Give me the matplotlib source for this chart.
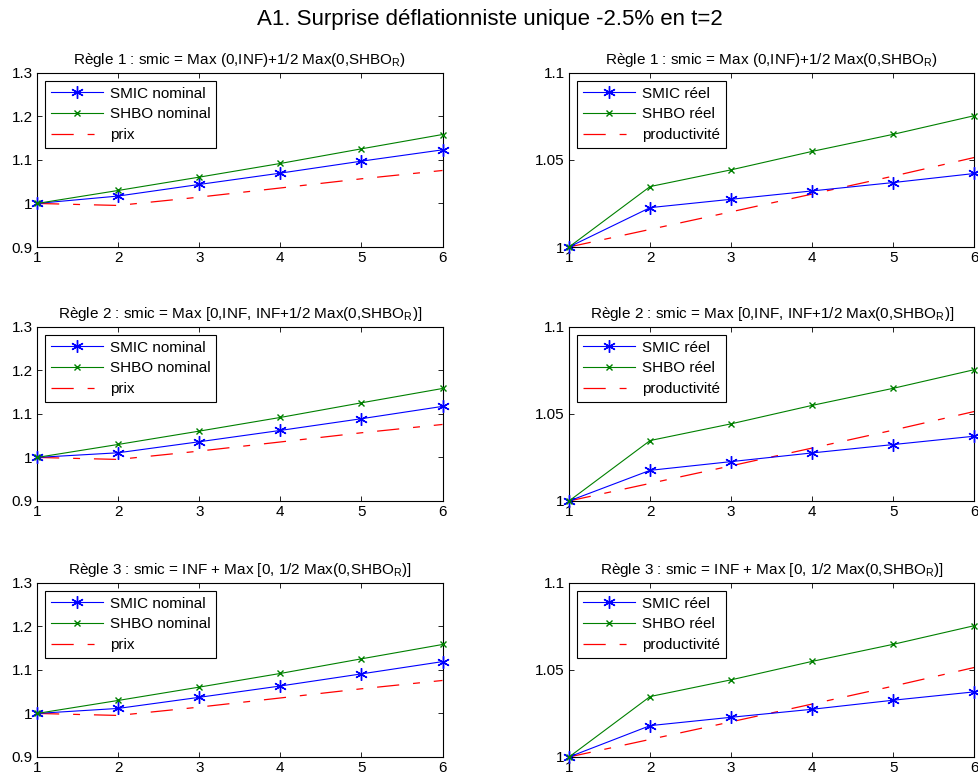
import numpy as np
import matplotlib
matplotlib.use("Agg")
import matplotlib.pyplot as plt

plt.rcParams['font.family'] = ['Liberation Sans', 'DejaVu Sans']
plt.rcParams['mathtext.fontset'] = 'custom'
plt.rcParams['mathtext.rm'] = 'Liberation Sans'
plt.rcParams['lines.scale_dashes'] = False

# periods
t = [1, 2, 3, 4, 5, 6]

# nominal series (left column), one per rule
smic_nominal = [
    [1.0, 1.017, 1.0436, 1.0696, 1.0971, 1.1231],
    [1.0, 1.0107, 1.036, 1.062, 1.0889, 1.1172],
    [1.0, 1.0115, 1.037, 1.063, 1.0908, 1.119],
]
shbo_nominal = [1.0, 1.0298, 1.0604, 1.0918, 1.1254, 1.1583]
prix = [1.0, 0.9954, 1.0145, 1.0355, 1.0566, 1.0757]

# real series (right column), one per rule
smic_reel = [
    [1.0, 1.0226, 1.0274, 1.0322, 1.037, 1.0422],
    [1.0, 1.0176, 1.0226, 1.0276, 1.0324, 1.0372],
    [1.0, 1.018, 1.0228, 1.0274, 1.0326, 1.0374],
]
shbo_reel = [1.0, 1.0347, 1.0443, 1.0549, 1.0647, 1.0754]
productivite = [1.0, 1.0101, 1.0202, 1.0304, 1.0407, 1.0514]

titles = [
    r"Règle 1 : smic = Max (0,INF)+1/2 Max(0,SHBO$_\mathregular{R}$)",
    r"Règle 2 : smic = Max [0,INF, INF+1/2 Max(0,SHBO$_\mathregular{R}$)]",
    r"Règle 3 : smic = INF + Max [0, 1/2 Max(0,SHBO$_\mathregular{R}$)]",
]
suptitle = "A1. Surprise déflationniste unique -2.5% en t=2"

BLUE = (0, 0, 1)
GREEN = (0, 0.5, 0)
RED = (1, 0, 0)
DASHDOT = (0, (16, 10, 5, 10))
ASTER = (6, 2, 0)

fig = plt.figure(figsize=(9.79, 7.76), dpi=100)
fig.text(0.5, 0.961, suptitle, ha='center', va='bottom', fontsize=16)

row_bottoms = [0.6817, 0.3544, 0.0245]
row_h = 0.2245
col_lefts = [0.0378, 0.5812]
col_w = 0.4142


def style_axes(ax):
    ax.tick_params(direction='in', top=True, right=True, length=3.5,
                   width=0.6, labelsize=11, pad=3)
    for s in ax.spines.values():
        s.set_linewidth(0.8)
    ax.set_xlim(1, 6)
    ax.set_xticks(t)


def add_legend(ax):
    leg = ax.legend(loc='upper left', fancybox=False, edgecolor='black',
                    framealpha=1, fontsize=11, handlelength=3.4,
                    numpoints=1, borderaxespad=0.55, labelspacing=0.45,
                    handletextpad=0.5, borderpad=0.35)
    leg.get_frame().set_linewidth(0.8)


for i in range(3):
    # left: nominal
    ax = fig.add_axes([col_lefts[0], row_bottoms[i], col_w, row_h])
    ax.plot(t, smic_nominal[i], color=BLUE, marker=ASTER, markersize=9,
            mew=1, lw=0.8, label='SMIC nominal', clip_on=False, zorder=3)
    ax.plot(t, shbo_nominal, color=GREEN, marker='x', markersize=4,
            mew=1, lw=0.8, label='SHBO nominal', clip_on=False, zorder=3)
    ax.plot(t, prix, color=RED, ls=DASHDOT, lw=0.9, label='prix')
    ax.set_ylim(0.9, 1.3)
    ax.set_yticks([0.9, 1.0, 1.1, 1.2, 1.3])
    ax.set_yticklabels(['0.9', '1', '1.1', '1.2', '1.3'])
    style_axes(ax)
    ax.set_title(titles[i], fontsize=11, pad=6)
    add_legend(ax)

    # right: real
    ax = fig.add_axes([col_lefts[1], row_bottoms[i], col_w, row_h])
    ax.plot(t, smic_reel[i], color=BLUE, marker=ASTER, markersize=9,
            mew=1, lw=0.8, label='SMIC réel', clip_on=False, zorder=3)
    ax.plot(t, shbo_reel, color=GREEN, marker='x', markersize=4,
            mew=1, lw=0.8, label='SHBO réel', clip_on=False, zorder=3)
    ax.plot(t, productivite, color=RED, ls=DASHDOT, lw=0.9,
            label='productivité')
    ax.set_ylim(1.0, 1.1)
    ax.set_yticks([1.0, 1.05, 1.1])
    ax.set_yticklabels(['1', '1.05', '1.1'])
    style_axes(ax)
    ax.set_title(titles[i], fontsize=11, pad=6)
    add_legend(ax)

fig.savefig('out.png', dpi=100)
